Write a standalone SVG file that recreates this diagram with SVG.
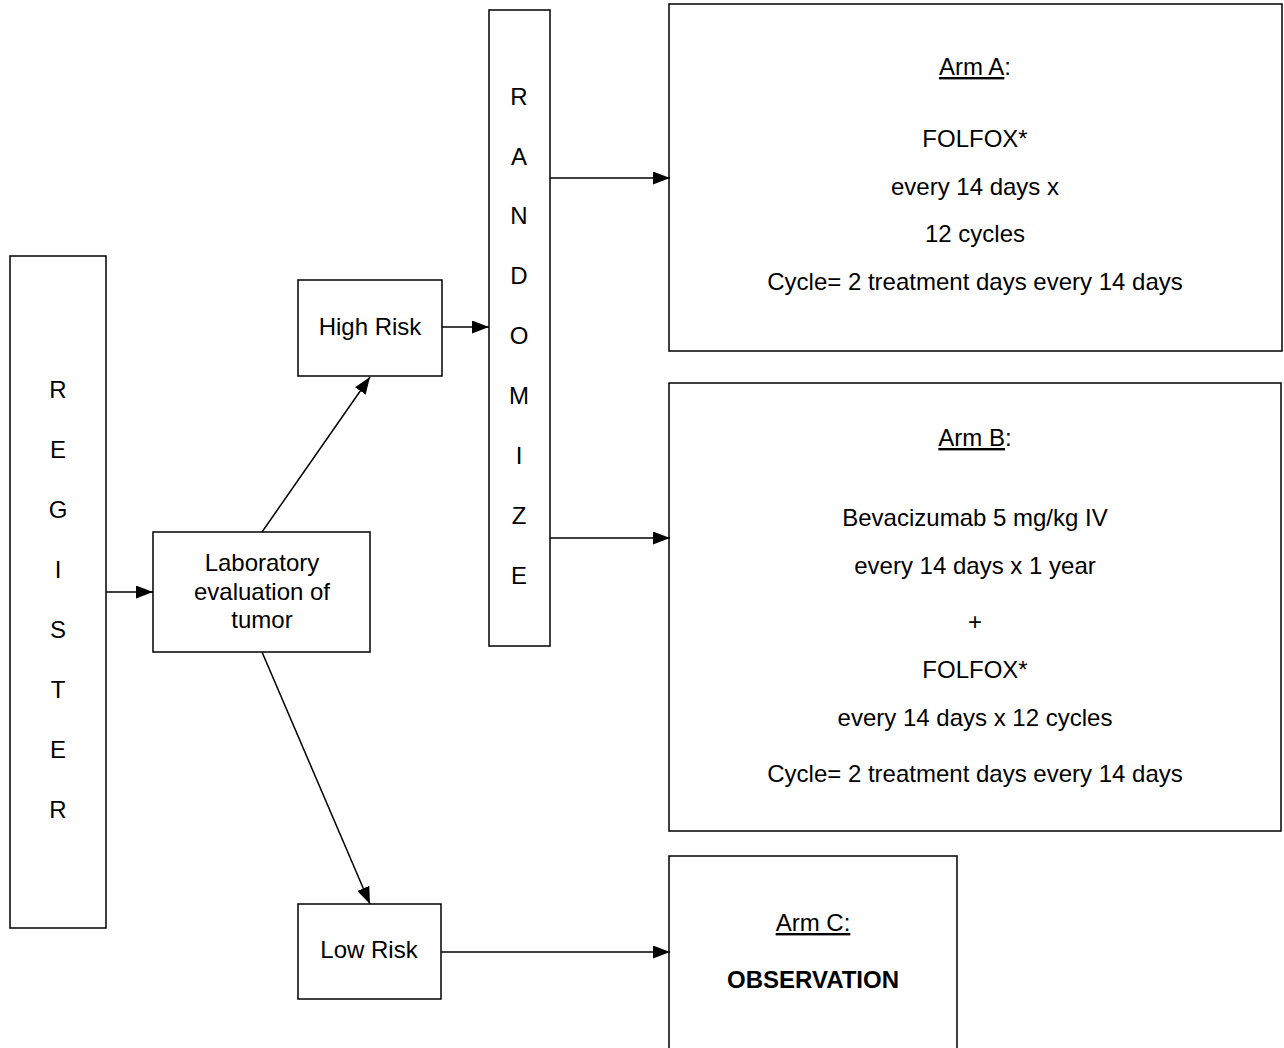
<svg xmlns="http://www.w3.org/2000/svg" width="1284" height="1048" viewBox="0 0 1284 1048">
<style>
.box{fill:#fff;stroke:#000;stroke-width:1.5}
text{font-family:"Liberation Sans",Arial,sans-serif;font-size:24px;fill:#000;text-anchor:middle}
.b{font-weight:bold}
.con{stroke:#000;stroke-width:1.5;fill:none;marker-end:url(#ah)}
</style>
<defs>
<marker id="ah" viewBox="0 0 17 13" refX="17" refY="6.5" markerWidth="17" markerHeight="13" markerUnits="userSpaceOnUse" orient="auto">
<path d="M0,0 L17,6.5 L0,13 Z" fill="#000"/>
</marker>
</defs>
<rect width="1284" height="1048" fill="#fff"/>
<g id="register">
<rect class="box" x="10" y="256" width="96" height="672"/>
<text x="58" y="398">R</text><text x="58" y="458">E</text><text x="58" y="518">G</text><text x="58" y="578">I</text><text x="58" y="638">S</text><text x="58" y="698">T</text><text x="58" y="758">E</text><text x="58" y="818">R</text>
</g>
<g id="lab">
<rect class="box" x="153" y="532" width="217" height="120"/>
<text x="262" y="571">Laboratory</text>
<text x="262" y="600">evaluation of</text>
<text x="262" y="628">tumor</text>
</g>
<g id="highrisk">
<rect class="box" x="298" y="280" width="144" height="96"/>
<text x="370" y="335">High Risk</text>
</g>
<g id="lowrisk">
<rect class="box" x="298" y="904" width="143" height="95"/>
<text x="369" y="958">Low Risk</text>
</g>
<g id="randomize">
<rect class="box" x="489" y="10" width="61" height="636"/>
<text x="519" y="105">R</text><text x="519" y="165">A</text><text x="519" y="224">N</text><text x="519" y="284">D</text><text x="519" y="344">O</text><text x="519" y="404">M</text><text x="519" y="464">I</text><text x="519" y="524">Z</text><text x="519" y="584">E</text>
</g>
<g id="armA">
<rect class="box" x="669" y="4" width="613" height="347"/>
<text x="975" y="75"><tspan text-decoration="underline">Arm A</tspan>:</text>
<text x="975" y="147">FOLFOX*</text>
<text x="975" y="195">every 14 days x</text>
<text x="975" y="242">12 cycles</text>
<text x="975" y="290">Cycle= 2 treatment days every 14 days</text>
</g>
<g id="armB">
<rect class="box" x="669" y="383" width="612" height="448"/>
<text x="975" y="446"><tspan text-decoration="underline">Arm B</tspan>:</text>
<text x="975" y="526">Bevacizumab 5 mg/kg IV</text>
<text x="975" y="574">every 14 days x 1 year</text>
<text x="975" y="630">+</text>
<text x="975" y="678">FOLFOX*</text>
<text x="975" y="726">every 14 days x 12 cycles</text>
<text x="975" y="782">Cycle= 2 treatment days every 14 days</text>
</g>
<g id="armC">
<rect class="box" x="669" y="856" width="288" height="194"/>
<text x="813" y="931" text-decoration="underline">Arm C:</text>
<text x="813" y="988" class="b">OBSERVATION</text>
</g>
<g id="connectors">
<line class="con" x1="106" y1="592" x2="153" y2="592"/>
<line class="con" x1="262" y1="532" x2="370" y2="377"/>
<line class="con" x1="262" y1="652" x2="370" y2="904"/>
<line class="con" x1="442" y1="327" x2="489" y2="327"/>
<line class="con" x1="550" y1="178" x2="670" y2="178"/>
<line class="con" x1="550" y1="538" x2="670" y2="538"/>
<line class="con" x1="441" y1="952" x2="670" y2="952"/>
</g>
</svg>
